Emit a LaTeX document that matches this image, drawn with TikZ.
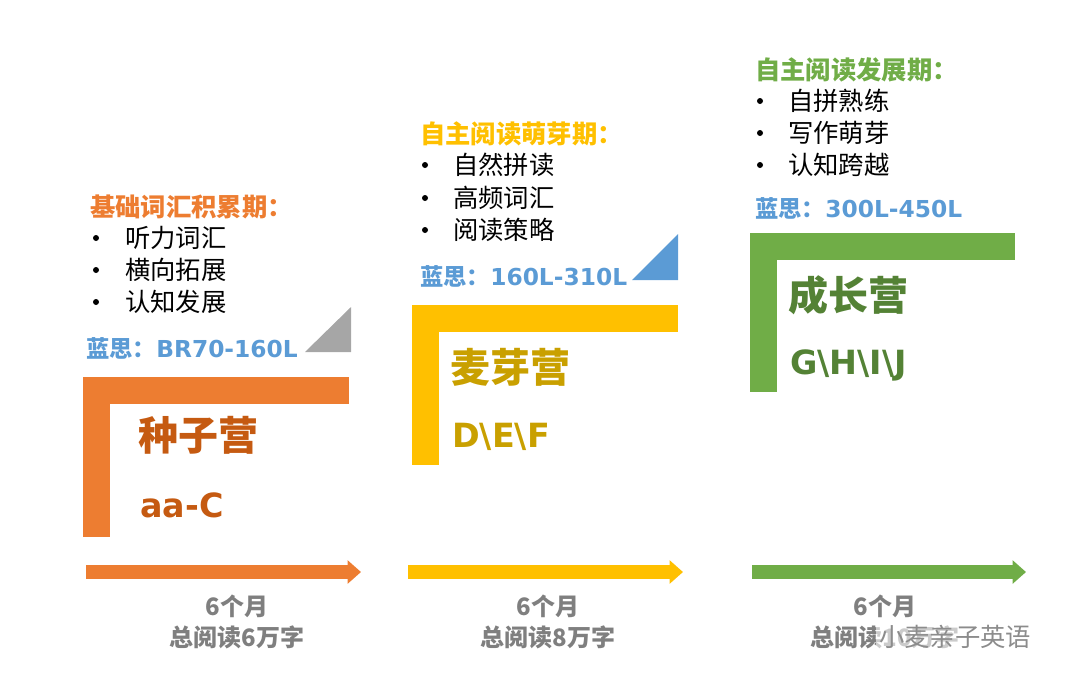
\documentclass[tikz,border=0pt]{standalone}
\usepackage{fontspec}
\setmainfont{Noto Sans CJK SC}
\newfontfamily\latf{DejaVu Sans}
\usetikzlibrary{arrows.meta}
\definecolor{cor}{HTML}{ED7D31}\definecolor{corD}{HTML}{C55A11}
\definecolor{cye}{HTML}{FFC000}\definecolor{cyeD}{HTML}{C9A000}
\definecolor{cgr}{HTML}{70AD47}\definecolor{cgrD}{HTML}{548235}
\definecolor{cbl}{HTML}{5B9BD5}\definecolor{cgy}{HTML}{7F7F7F}
\tikzset{
 title/.style={anchor=west,font=\bfseries\fontsize{19}{21}\selectfont,inner sep=0},
 item/.style={anchor=west,font=\fontsize{19}{21}\selectfont,inner sep=0},
 bul/.style={circle,fill=black,inner sep=0,minimum size=4.5pt},
 lex/.style={anchor=west,font=\bfseries\fontsize{17.5}{20}\selectfont,inner sep=0,text=cbl},
 camp/.style={anchor=west,font=\bfseries\fontsize{30}{34}\selectfont,inner sep=0},
 lvl/.style={anchor=west,font=\latf\bfseries\fontsize{25}{28}\selectfont,inner sep=0},
 foot/.style={anchor=center,font=\bfseries\fontsize{18}{20}\selectfont,inner sep=0,text=cgy},
 tl/.style={line width=10.5pt,-{Triangle[length=10pt,width=17pt]}}
}
\begin{document}
\begin{tikzpicture}[x=0.75pt,y=-0.75pt]
\useasboundingbox (0,0) rectangle (1080,687);
% stage 1
\fill[cor] (83,377) rectangle (349,404); \fill[cor] (83,377) rectangle (110,537);
\fill[black!35] (305,352) -- (351,352) -- (351,307) -- cycle;
\node[title,text=cor] (t1) at (90,207) {基础词汇积累期：};
\foreach \y/\t [count=\i] in {238/听力词汇,270/横向拓展,302/认知发展}{
 \node[bul] (b1\i) at (96,\y) {}; \node[item] (i1\i) at (125,\y) {\t};}
\node[lex] (l1) at (86,348) {蓝思：{\latf BR70-160L}};
\node[camp,text=corD] (c1) at (138,435) {种子营};
\node[lvl,text=corD] (v1) at (140,505) {aa-C};
\coordinate (a1s) at (86,572); \coordinate (a1e) at (361,572);
\draw[tl,cor] (a1s) -- (a1e);
\node[foot] (f1a) at (237,606) {6个月};
\node[foot] (f1b) at (237,637) {总阅读6万字};
% stage 2
\fill[cye] (412,305) rectangle (678,332); \fill[cye] (412,305) rectangle (439,465);
\fill[cbl] (632,280) -- (678,280) -- (678,234) -- cycle;
\node[title,text=cye] (t2) at (420,134) {自主阅读萌芽期：};
\foreach \y/\t [count=\i] in {165/自然拼读,198/高频词汇,230/阅读策略}{
 \node[bul] (b2\i) at (425,\y) {}; \node[item] (i2\i) at (453,\y) {\t};}
\node[lex] (l2) at (420,276) {蓝思：{\latf 160L-310L}};
\node[camp,text=cyeD] (c2) at (450,367) {麦芽营};
\node[lvl,text=cyeD] (v2) at (452,437) {D\textbackslash E\textbackslash F};
\coordinate (a2s) at (408,572); \coordinate (a2e) at (683,572);
\draw[tl,cye] (a2s) -- (a2e);
\node[foot] (f2a) at (548,606) {6个月};
\node[foot] (f2b) at (548,637) {总阅读8万字};
% stage 3
\fill[cgr] (750,233) rectangle (1015,260); \fill[cgr] (750,233) rectangle (777,392);
\node[title,text=cgr] (t3) at (755,70) {自主阅读发展期：};
\foreach \y/\t [count=\i] in {101/自拼熟练,133/写作萌芽,165/认知跨越}{
 \node[bul] (b3\i) at (760,\y) {}; \node[item] (i3\i) at (788,\y) {\t};}
\node[lex] (l3) at (755,208) {蓝思：{\latf 300L-450L}};
\node[camp,text=cgrD] (c3) at (788,295) {成长营};
\node[lvl,text=cgrD] (v3) at (790,365) {G\textbackslash H\textbackslash I\textbackslash J};
\coordinate (a3s) at (752,572); \coordinate (a3e) at (1026,572);
\draw[tl,cgr] (a3s) -- (a3e);
\node[foot] (f3a) at (885,606) {6个月};
\node[foot] (f3b) at (885,637) {总阅读10万字};
\node[anchor=center,inner sep=2pt,fill=white,fill opacity=0.6,text opacity=1,text=black!45,font=\fontsize{19}{21}\selectfont] (wm) at (955,637) {小麦亲子英语};
\end{tikzpicture}
\end{document}
